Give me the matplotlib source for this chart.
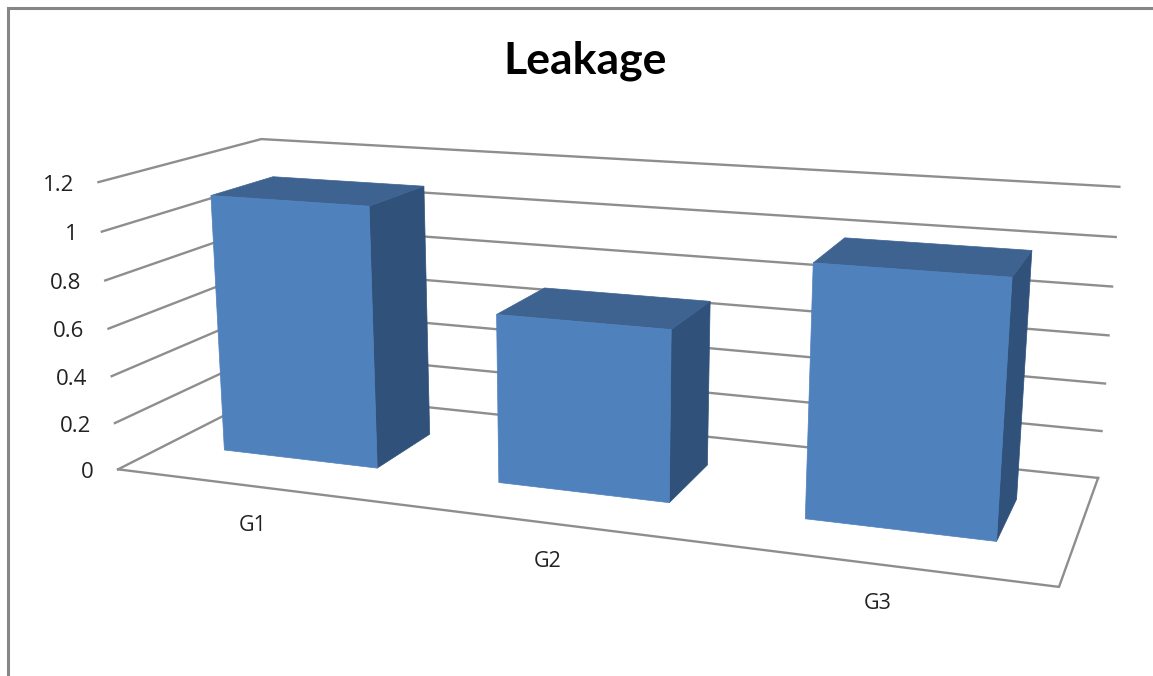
import numpy as np
import matplotlib
matplotlib.use('Agg')
import matplotlib.pyplot as plt
from matplotlib.collections import PolyCollection

plt.rcParams['font.family'] = ['Open Sans', 'DejaVu Sans']

# chart values
categories = ['G1', 'G2', 'G3']
leakage = [1.1, 0.7, 1.0]
ticks = [0, 0.2, 0.4, 0.6, 0.8, 1, 1.2]
tick_labels = ['0', '0.2', '0.4', '0.6', '0.8', '1', '1.2']

FRONT = '#4F81BD'
TOP = '#3E6390'
SIDE = '#30527A'
GRID = '#8E8E8E'
TEXT = '#222222'

# box corners (category axis 0-1, depth 0-1, value) and where they land on the canvas
box_pts = np.array([
    [0, 0, 0], [1, 0, 0], [1, 1, 0], [0, 1, 0],
    [0, 0, 1.2], [1, 1, 1.2], [0, 1, 1.2],
    [0, 0, 0.6], [1, 1, 0.6],
], dtype=float)
canvas_pts = np.array([
    [119, 469], [1059, 587], [1098, 478], [272, 391],
    [98, 182], [1119, 187], [262, 139],
    [108, 329], [1109, 335],
], dtype=float)

# perspective camera, least squares fit
rows, rhs = [], []
for (X, Y, Z), (px, py) in zip(box_pts, canvas_pts):
    rows.append([X, Y, Z, 1, 0, 0, 0, 0, -px*X, -px*Y, -px*Z])
    rows.append([0, 0, 0, 0, X, Y, Z, 1, -py*X, -py*Y, -py*Z])
    rhs += [px, py]
cam = np.linalg.lstsq(np.array(rows), np.array(rhs), rcond=None)[0]
cam = np.append(cam, 1).reshape(3, 4)


def project(x, y, z):
    u, v, w = cam @ np.array([x, y, z, 1.0])
    return u/w, v/w


fig = plt.figure(figsize=(11.53, 6.76), dpi=100)
ax = fig.add_axes([0, 0, 1, 1])
ax.set_xlim(0, 1153)
ax.set_ylim(676, 0)
ax.axis('off')

# outer chart border, only top and left are in view
ax.plot([8, 8, 1153], [676, 8, 8], color='#868686', lw=2.2, solid_joinstyle='miter')

# walls
for t in ticks:
    pts = [project(0, 0, t), project(0, 1, t), project(1, 1, t)]
    ax.plot(*zip(*pts), color=GRID, lw=1.7, zorder=1)

# floor
floor = [project(0, 0, 0), project(1, 0, 0), project(1, 1, 0)]
ax.plot(*zip(*floor), color=GRID, lw=1.7, zorder=1)

# bars
bar_w = 0.19
d0, d1 = 0.3, 0.7
for i, val in enumerate(leakage):
    c = (i + 0.5)/len(categories)
    x0, x1 = c - bar_w/2, c + bar_w/2
    front = [project(x0, d0, 0), project(x1, d0, 0), project(x1, d0, val), project(x0, d0, val)]
    side = [project(x1, d0, 0), project(x1, d1, 0), project(x1, d1, val), project(x1, d0, val)]
    top = [project(x0, d0, val), project(x1, d0, val), project(x1, d1, val), project(x0, d1, val)]
    faces = PolyCollection([side, top, front], facecolors=[SIDE, TOP, FRONT],
                           edgecolors=[SIDE, TOP, FRONT], linewidths=0.5, zorder=3)
    ax.add_collection(faces)

# value axis labels
for t, lab in zip(ticks, tick_labels):
    px, py = project(0, 0, t)
    ax.text(px - 24, py + 3, lab, ha='right', va='center', fontsize=16, color=TEXT)

# category labels
for i, name in enumerate(categories):
    px, py = project((i + 0.5)/len(categories), 0, 0)
    ax.text(px, py + 39, name, ha='center', va='center', fontsize=15.5, color=TEXT)

ax.text(585, 61, 'Leakage', ha='center', va='center', fontsize=32, fontweight='bold',
        family=['Lato', 'DejaVu Sans'], color='black')

fig.savefig('out.png', dpi=100)
